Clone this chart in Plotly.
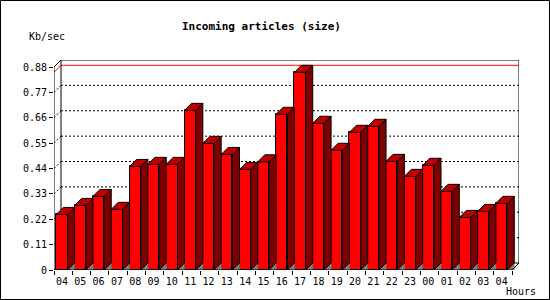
import plotly.graph_objects as go

hours = ["04", "05", "06", "07", "08", "09", "10", "11", "12", "13", "14", "15", "16",
         "17", "18", "19", "20", "21", "22", "23", "00", "01", "02", "03", "04"]
values = [0.241, 0.280, 0.319, 0.263, 0.449, 0.458, 0.458, 0.692, 0.549, 0.501, 0.436, 0.469,
          0.675, 0.857, 0.636, 0.519, 0.597, 0.623, 0.471, 0.406, 0.454, 0.341, 0.228, 0.254, 0.289]
ytick_vals = [0, 0.11, 0.22, 0.33, 0.44, 0.55, 0.66, 0.77, 0.88]
ytick_text = ["0", "0.11", "0.22", "0.33", "0.44", "0.55", "0.66", "0.77", "0.88"]
title = "Incoming articles (size)"
ylabel = "Kb/sec"
xlabel = "Hours"

W, H = 550, 300
ML, MT = 54, 60
PX = 18.32          # pixels per category slot
PY = 203 / 0.88     # pixels per unit
D = 7               # 3D depth in pixels
n = len(values)
plot_w = n * PX + D
plot_h = 210
MR = W - ML - plot_w
MB = H - MT - plot_h

dx = D / PX
dy = D / PY
ymax = ytick_vals[-1]
x0, x1 = -0.5, n - 0.5 + dx
y1 = ymax + dy

FRONT, SIDE, TOP, GRAY = "#FF0000", "#800000", "#C00000", "#808080"
off_l, bw = 2.3 / PX, 11.3 / PX

fig = go.Figure()

# gray floor triangles
tx, ty = [], []
for i, v in enumerate(values):
    xr = i - 0.5 + off_l + bw
    tx += [xr, xr + dx, xr + dx, xr, None]
    ty += [0, dy, 0, 0, None]
fig.add_trace(go.Scatter(x=tx, y=ty, fill="toself", fillcolor=GRAY, mode="lines",
                         line=dict(color=GRAY, width=0.5), hoverinfo="skip", showlegend=False))

# front faces
fig.add_trace(go.Bar(x=[i - 0.5 + off_l + bw / 2 for i in range(n)], y=values, width=bw,
                     marker=dict(color=FRONT, line=dict(color="black", width=1)),
                     hoverinfo="skip", showlegend=False))

# side and top faces
sx, sy, px_, py_ = [], [], [], []
for i, v in enumerate(values):
    xl = i - 0.5 + off_l
    xr = xl + bw
    sx += [xr, xr + dx, xr + dx, xr, xr, None]
    sy += [0, dy, v + dy, v, 0, None]
    px_ += [xl, xl + dx, xr + dx, xr, xl, None]
    py_ += [v, v + dy, v + dy, v, v, None]
fig.add_trace(go.Scatter(x=sx, y=sy, fill="toself", fillcolor=SIDE, mode="lines",
                         line=dict(color="black", width=1), hoverinfo="skip", showlegend=False))
fig.add_trace(go.Scatter(x=px_, y=py_, fill="toself", fillcolor=TOP, mode="lines",
                         line=dict(color="black", width=1), hoverinfo="skip", showlegend=False))

shapes = []
def line(xa, ya, xb, yb, color="black", dash="solid", layer="below"):
    shapes.append(dict(type="line", xref="x", yref="y", x0=xa, y0=ya, x1=xb, y1=yb,
                       line=dict(color=color, width=1, dash=dash), layer=layer))

# back wall gridlines
for v in ytick_vals[1:-1]:
    line(x0 + dx, v + dy, x1, v + dy, dash="2px,2px")
    line(x0, v, x0 + dx, v + dy, dash="2px,2px")
# max line
vmax = max(values)
line(x0 + dx, vmax + dy, x1, vmax + dy, color="red")
line(x0, vmax, x0 + dx, vmax + dy, color="red")
# back wall frame
line(x0 + dx, y1, x1, y1)
line(x0 + dx, dy, x0 + dx, y1)
line(x1, dy, x1, y1)
line(x0 + dx, dy, x1, dy)
# front axes
line(x0, 0, x0, ymax, layer="above")
line(x0, ymax, x0 + dx, y1, layer="above")
line(x0, 0, x0 + dx, dy)
line(x0, 0, n - 0.5, 0, layer="above")
line(n - 0.5, 0, x1, dy, layer="above")

# outer border
shapes.append(dict(type="rect", xref="paper", yref="paper",
                   x0=(0.5 - ML) / plot_w, x1=(W - 0.5 - ML) / plot_w,
                   y0=-(MB - 0.5) / plot_h, y1=(MT + plot_h - 0.5) / plot_h,
                   line=dict(color="black", width=1)))

FONT = "DejaVu Sans Mono"
annotations = [
    dict(text="<b>" + title + "</b>", xref="paper", yref="paper",
         x=(261 - ML) / plot_w, y=(MT + plot_h - 26.7) / plot_h, xanchor="center", yanchor="middle",
         showarrow=False, font=dict(family=FONT, size=11, color="black")),
    dict(text=ylabel, xref="paper", yref="paper",
         x=(27 - ML) / plot_w, y=(MT + plot_h - 36.7) / plot_h, xanchor="left", yanchor="middle",
         showarrow=False, font=dict(family=FONT, size=10, color="black")),
    dict(text=xlabel, xref="paper", yref="paper",
         x=(504 - ML) / plot_w, y=(MT + plot_h - 291) / plot_h, xanchor="left", yanchor="middle",
         showarrow=False, font=dict(family=FONT, size=10, color="black")),
]

fig.update_layout(
    width=W, height=H, margin=dict(l=ML, r=MR, t=MT, b=MB),
    paper_bgcolor="white", plot_bgcolor="white",
    shapes=shapes, annotations=annotations, bargap=0,
    xaxis=dict(range=[x0, x1], showgrid=False, zeroline=False, showline=False,
               tickmode="array", tickvals=[i - 0.5 + off_l + bw / 2 for i in range(n)],
               ticktext=hours, ticks="", fixedrange=True, ticklabelstandoff=4,
               tickfont=dict(family=FONT, size=10, color="black"),
               minor=dict(tickmode="array", tickvals=[i - 0.5 for i in range(n + 1)],
                          ticks="outside", ticklen=4, tickcolor="black", tickwidth=1, showgrid=False)),
    yaxis=dict(range=[0, y1], showgrid=False, zeroline=False, showline=False,
               tickmode="array", tickvals=ytick_vals, ticktext=ytick_text,
               ticks="outside", ticklen=4, tickcolor="black", tickwidth=1, fixedrange=True,
               tickfont=dict(family=FONT, size=10, color="black")),
    showlegend=False,
)

fig.write_html("out.html")
